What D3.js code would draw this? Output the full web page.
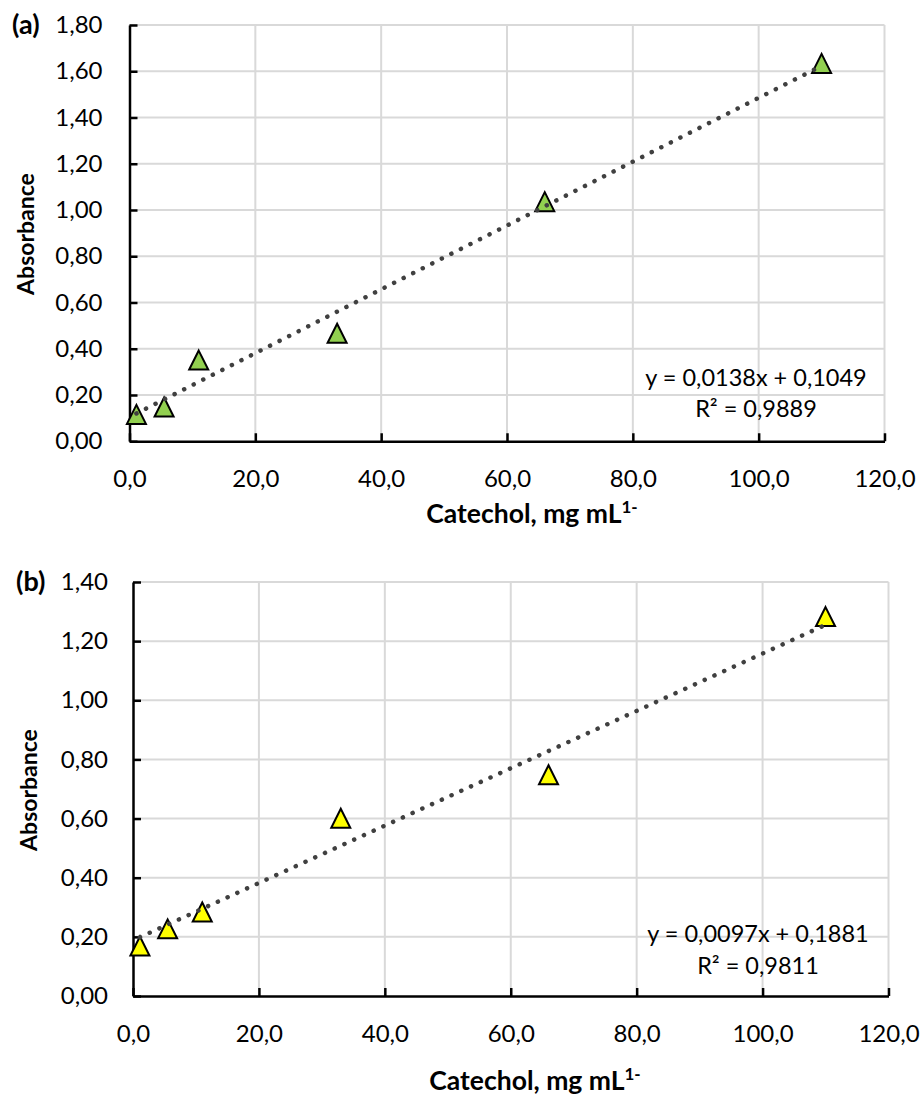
<!DOCTYPE html>
<html>
<head>
<meta charset="utf-8">
<script src="https://cdn.jsdelivr.net/npm/d3@7"></script>
<style>
  html, body { margin: 0; padding: 0; background: #ffffff; }
  svg { display: block; font-family: Lato, "Open Sans", sans-serif; }
</style>
</head>
<body>
<svg id="chart" width="920" height="1097"></svg>
<script>
// Catechol calibration data (concentration vs. absorbance)
const concentrations = [1.1, 5.5, 11, 33, 66, 110];
const absorbanceA = [0.116, 0.148, 0.351, 0.467, 1.036, 1.634];
const absorbanceB = [0.169, 0.227, 0.284, 0.601, 0.748, 1.283];

// Linear fits shown on each panel
const slopes = [0.0138, 0.0097];
const intercepts = [0.1049, 0.1881];
const rSquared = [0.9889, 0.9811];

// Axis ticks
const xTicks = [0, 20, 40, 60, 80, 100, 120];
const yTicksA = [0, 0.2, 0.4, 0.6, 0.8, 1.0, 1.2, 1.4, 1.6, 1.8];
const yTicksB = [0, 0.2, 0.4, 0.6, 0.8, 1.0, 1.2, 1.4];

const panelLabels = ["(a)", "(b)"];
const markerColors = ["#92d050", "#ffff00"];

const locale = d3.formatLocale({ decimal: ",", thousands: ".", grouping: [3], currency: ["", ""] });
const fmtX = locale.format(".1f");
const fmtY = locale.format(".2f");
const fmt4 = locale.format(".4f");

const svg = d3.select("#chart");

const panels = [
  {
    values: absorbanceA, yTicks: yTicksA, yMax: 1.8,
    x0: 129.5, x1: 884.5, yTop: 25, yBottom: 441.25,
    yPad: 27, label: { x: 12, y: 34 },
    eq: { x: 756, y1: 386, y2: 417 },
    xTitle: { x: 532, y: 523 }, yTitle: { x: 34, y: 234 }
  },
  {
    values: absorbanceB, yTicks: yTicksB, yMax: 1.4,
    x0: 133, x1: 888.5, yTop: 582, yBottom: 996,
    yPad: 25, label: { x: 16, y: 591 },
    eq: { x: 758, y1: 942, y2: 974 },
    xTitle: { x: 535, y: 1090 }, yTitle: { x: 37, y: 790 }
  }
];

panels.forEach((p, i) => {
  const g = svg.append("g");
  const x = d3.scaleLinear().domain([0, 120]).range([p.x0, p.x1]);
  const y = d3.scaleLinear().domain([0, p.yMax]).range([p.yBottom, p.yTop]);

  // gridlines
  g.append("g").selectAll("line.h").data(p.yTicks.slice(1)).join("line")
    .attr("x1", p.x0).attr("x2", p.x1)
    .attr("y1", d => y(d)).attr("y2", d => y(d))
    .attr("stroke", "#d9d9d9").attr("stroke-width", 2);
  g.append("g").selectAll("line.v").data(xTicks.slice(1)).join("line")
    .attr("x1", d => x(d)).attr("x2", d => x(d))
    .attr("y1", p.yTop).attr("y2", p.yBottom)
    .attr("stroke", "#d9d9d9").attr("stroke-width", 2);

  // axes with inside tick marks
  const xAxis = d3.axisBottom(x).tickValues(xTicks).tickFormat(fmtX)
    .tickSizeInner(-8).tickSizeOuter(0).tickPadding(28.5);
  const yAxis = d3.axisLeft(y).tickValues(p.yTicks).tickFormat(fmtY)
    .tickSizeInner(-8).tickSizeOuter(0).tickPadding(p.yPad);

  const gx = g.append("g").attr("transform", `translate(0,${p.yBottom})`).call(xAxis);
  const gy = g.append("g").attr("transform", `translate(${p.x0},0)`).call(yAxis);
  [gx, gy].forEach(a => {
    a.select(".domain").attr("stroke", "#000").attr("stroke-width", 2.5);
    a.selectAll(".tick line").attr("stroke", "#000").attr("stroke-width", 2.5);
    a.selectAll(".tick text").attr("fill", "#000")
      .style("font-family", "Lato, sans-serif").style("font-size", "24px");
  });

  // markers
  const w = 19, h = 19;
  const tri = `M0,${-h / 2}L${w / 2},${h / 2}L${-w / 2},${h / 2}Z`;
  g.append("g").selectAll("path").data(concentrations).join("path")
    .attr("d", tri)
    .attr("transform", (d, k) => `translate(${x(d)},${y(p.values[k])})`)
    .attr("fill", markerColors[i]).attr("stroke", "#000").attr("stroke-width", 2)
    .attr("stroke-linejoin", "miter");

  // dotted linear trendline across the measured range
  const xs = d3.extent(concentrations);
  const fit = v => slopes[i] * v + intercepts[i];
  g.append("line")
    .attr("x1", x(xs[0])).attr("y1", y(fit(xs[0])))
    .attr("x2", x(xs[1])).attr("y2", y(fit(xs[1])))
    .attr("stroke", "#404040").attr("stroke-width", 4.5)
    .attr("stroke-linecap", "round").attr("stroke-dasharray", "0.1,10.6");

  // equation and R²
  g.append("text").attr("x", p.eq.x).attr("y", p.eq.y1).attr("text-anchor", "middle")
    .style("font-size", "23.5px").attr("fill", "#000")
    .text(`y = ${fmt4(slopes[i])}x + ${fmt4(intercepts[i])}`);
  g.append("text").attr("x", p.eq.x).attr("y", p.eq.y2).attr("text-anchor", "middle")
    .style("font-size", "23.5px").attr("fill", "#000")
    .text(`R² = ${fmt4(rSquared[i])}`);

  // panel letter
  g.append("text").attr("x", p.label.x).attr("y", p.label.y)
    .style("font-size", "27px").style("font-weight", "bold").attr("fill", "#000")
    .text(panelLabels[i]);

  // x-axis title with superscript unit
  const xt = g.append("text").attr("x", p.xTitle.x).attr("y", p.xTitle.y)
    .attr("text-anchor", "middle")
    .style("font-size", "26.5px").style("font-weight", "bold").attr("fill", "#000");
  xt.append("tspan").text("Catechol, mg mL");
  xt.append("tspan").attr("dy", -10).style("font-size", "17px").text("1-");

  // y-axis title
  g.append("text")
    .attr("transform", `translate(${p.yTitle.x},${p.yTitle.y}) rotate(-90)`)
    .attr("text-anchor", "middle")
    .style("font-size", "23px").style("font-weight", "bold").attr("fill", "#000")
    .text("Absorbance");
});
</script>
</body>
</html>
